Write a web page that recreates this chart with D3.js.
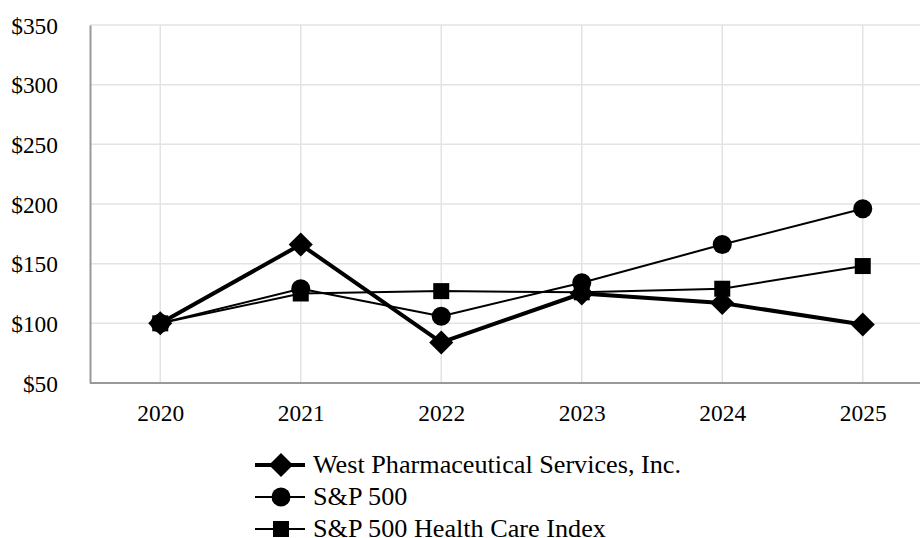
<!DOCTYPE html>
<html><head><meta charset="utf-8">
<script src="https://cdn.jsdelivr.net/npm/d3@7"></script>
<style>html,body{margin:0;padding:0;background:#fff;}svg{display:block;} text{font-family:"Liberation Serif","Times New Roman","DejaVu Serif",serif;}</style>
</head><body>
<svg id="c" width="920" height="538"></svg>
<script>
const years = ["2020","2021","2022","2023","2024","2025"];
const westValues = [100, 166, 84, 125, 117, 99];
const sp500Values = [100, 129, 106, 134, 166, 196];
const healthValues = [100, 125, 127, 126, 129, 148];
const yTicks = [50, 100, 150, 200, 250, 300, 350];
const seriesNames = ["West Pharmaceutical Services, Inc.", "S&P 500", "S&P 500 Health Care Index"];

const series = [
  {name: seriesNames[0], values: westValues, shape: "diamond", width: 4},
  {name: seriesNames[1], values: sp500Values, shape: "circle", width: 2},
  {name: seriesNames[2], values: healthValues, shape: "square", width: 2}
];

const svg = d3.select("#c");
const L = 90, R = 933, T = 25, B = 383;
const fs = 23.4;
const lfs = 26.2;

const x = d3.scalePoint().domain(years).range([L, R]).padding(0.5);
const y = d3.scaleLinear().domain([50, 350]).range([B, T]);

const grid = svg.append("g");
grid.selectAll("line.h").data(yTicks.slice(1)).enter().append("line")
  .attr("x1", L).attr("x2", 920).attr("y1", d => y(d)).attr("y2", d => y(d))
  .attr("stroke", "#e3e3e3").attr("stroke-width", 1.5);
grid.selectAll("line.v").data(years).enter().append("line")
  .attr("x1", d => x(d)).attr("x2", d => x(d)).attr("y1", T).attr("y2", B)
  .attr("stroke", "#e3e3e3").attr("stroke-width", 1.5);

// axes
const yAxis = svg.append("g").attr("transform", `translate(${L},0)`)
  .call(d3.axisLeft(y).tickValues(yTicks).tickSize(0).tickPadding(32).tickFormat(d => "$" + d));
yAxis.attr("font-family", null).attr("font-size", null);
yAxis.select(".domain").attr("stroke", "#999").attr("stroke-width", 2);
yAxis.selectAll("text").attr("dy", null).attr("y", 8).style("font-size", fs + "px").attr("fill", "#000");

const xAxis = svg.append("g").attr("transform", `translate(0,${B})`)
  .call(d3.axisBottom(x).tickSize(0).tickPadding(0));
xAxis.attr("font-family", null).attr("font-size", null);
xAxis.select(".domain").attr("stroke", "#999").attr("stroke-width", 2).attr("d", `M${L},0H920`);
xAxis.selectAll("text").attr("dy", null).attr("y", 38).style("font-size", fs + "px").attr("fill", "#000");

const symFor = (shape) => {
  if (shape === "diamond") return d3.symbol().type(d3.symbolSquare).size(290)();
  if (shape === "circle") return d3.symbol().type(d3.symbolCircle).size(285)();
  return d3.symbol().type(d3.symbolSquare).size(256)();
};
function marker(g, shape, cx, cy) {
  g.append("path").attr("d", symFor(shape)).attr("fill", "#000")
    .attr("transform", `translate(${cx},${cy})` + (shape === "diamond" ? " rotate(45)" : ""));
}

const line = d3.line().x((d, i) => x(years[i])).y(d => y(d));
const draw = [series[2], series[1], series[0]];
draw.forEach(s => {
  svg.append("path").datum(s.values).attr("d", line)
    .attr("fill", "none").attr("stroke", "#000").attr("stroke-width", s.width).attr("stroke-linejoin", "round");
});
draw.forEach(s => {
  const g = svg.append("g");
  s.values.forEach((v, i) => marker(g, s.shape, x(years[i]), y(v)));
});

// legend
const lg = svg.append("g");
series.forEach((s, i) => {
  const cy = 465 + i * 32;
  lg.append("line").attr("x1", 255).attr("x2", 305).attr("y1", cy).attr("y2", cy)
    .attr("stroke", "#000").attr("stroke-width", s.width);
  marker(lg, s.shape, 281, cy);
  lg.append("text").attr("x", 313).attr("y", cy + 8.3).text(s.name)
    .style("font-size", lfs + "px").attr("fill", "#000");
});
</script>
</body></html>
